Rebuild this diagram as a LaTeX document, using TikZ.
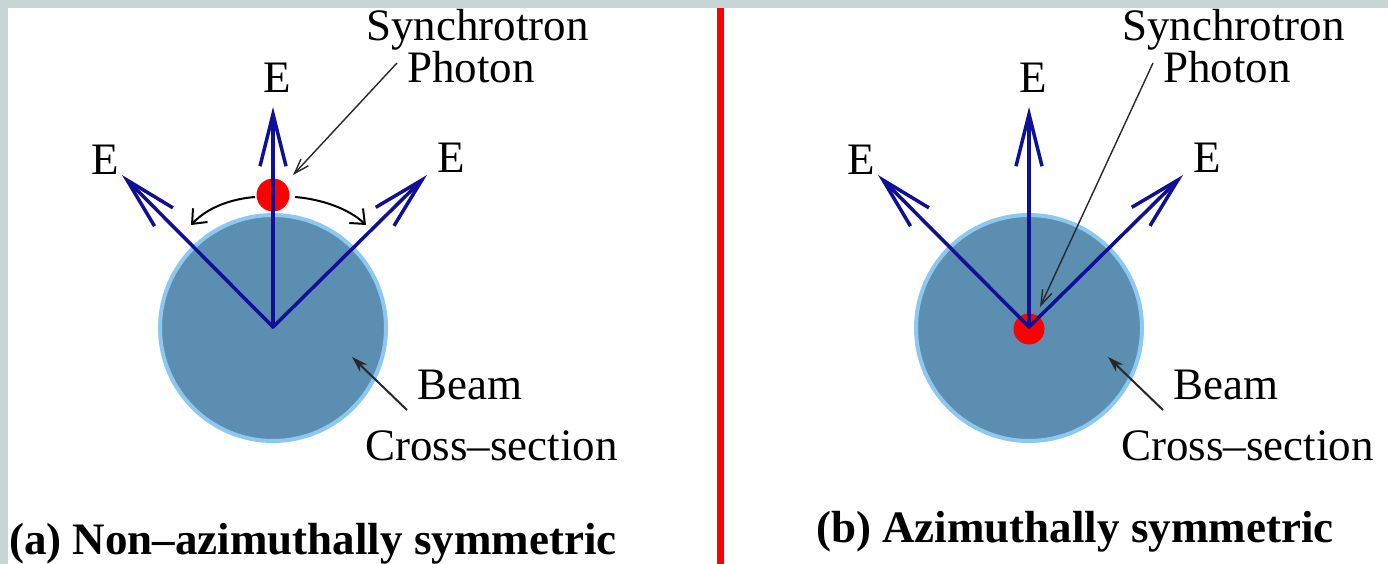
\documentclass[tikz,border=0pt]{standalone}
\usepackage{fontspec}
\setmainfont{Liberation Serif}
\usetikzlibrary{arrows.meta}
\definecolor{bgteal}{RGB}{200,213,213}
\definecolor{vecblue}{RGB}{16,16,150}
\definecolor{beamfill}{RGB}{92,142,178}
\definecolor{beamedge}{RGB}{140,200,240}
\definecolor{ptrgray}{RGB}{40,40,40}
\tikzset{
 vec/.style={draw=vecblue, line width=3.5pt, line cap=round, -{Straight Barb[length=52pt,width=26pt]}},
 lbl/.style={inner sep=0pt, font=\fontsize{45}{45}\selectfont},
 capt/.style={inner sep=0pt, font=\fontsize{45}{45}\selectfont\bfseries, anchor=base west},
 beamdisk/.style={circle, fill=beamfill, draw=beamedge, line width=4pt, minimum size=226pt, inner sep=0pt},
 photon/.style={circle, fill=red, inner sep=0pt},
 swing/.style={draw=black, line width=2pt, -{Straight Barb[length=12pt,width=20pt]}},
 ptr/.style={draw=ptrgray, line width=1.4pt, -{Straight Barb[length=15pt,width=10pt]}},
 bptr/.style={draw=ptrgray, line width=2pt, -{Stealth[length=16pt,width=10pt]}},
}
\begin{document}
\begin{tikzpicture}[x=1pt,y=-1pt]
\useasboundingbox (0,0) rectangle (1388,564);
\fill[bgteal] (0,0) rectangle (1388,564);
\fill[white] (8,8) rectangle (1388,564);
\fill[red] (717,8) rectangle (724,564);

% ---------- panel (a) ----------
\node[beamdisk] (beamA) at (273,328) {};
\node[photon, minimum size=33pt] (phA) at (273,195) {};
\coordinate (oA) at (273,327);
\coordinate (tAu) at (273,107);
\coordinate (tAl) at (122,175);
\coordinate (tAr) at (427,175);
\draw[vec] (oA) -- (tAu);
\draw[vec] (oA) -- (tAl);
\draw[vec] (oA) -- (tAr);
\node[lbl, anchor=base] (eAu) at (277,93) {E};
\node[lbl, anchor=base] (eAl) at (105,175) {E};
\node[lbl, anchor=base] (eAr) at (451,173) {E};
\coordinate (sAr0) at (295,197);
\coordinate (sAr1) at (366,225);
\coordinate (sAl0) at (255,197);
\coordinate (sAl1) at (191,225);
\draw[swing] (sAr0) .. controls (320,199) and (348,208) .. (sAr1);
\draw[swing] (sAl0) .. controls (230,199) and (207,208) .. (sAl1);
\node[lbl, anchor=base west] (synA) at (366,41) {Synchrotron};
\node[lbl, anchor=base west] (phoA) at (407,83) {Photon};
\coordinate (pA0) at (397,63);
\coordinate (pA1) at (293,175);
\draw[ptr] (pA0) -- (pA1);
\node[lbl, anchor=base west] (bmA) at (417,399) {Beam};
\node[lbl, anchor=base west] (csA) at (365,460) {Cross–section};
\coordinate (bA0) at (407,410);
\coordinate (bA1) at (352,357);
\draw[bptr] (bA0) -- (bA1);
\node[capt] (capA) at (9,554) {(a) Non–azimuthally symmetric};

% ---------- panel (b) ----------
\node[beamdisk] (beamB) at (1029,328) {};
\node[photon, minimum size=31pt] (phB) at (1029,329) {};
\coordinate (oB) at (1029,327);
\coordinate (tBu) at (1029,107);
\coordinate (tBl) at (878,175);
\coordinate (tBr) at (1183,175);
\draw[vec] (oB) -- (tBu);
\draw[vec] (oB) -- (tBl);
\draw[vec] (oB) -- (tBr);
\node[lbl, anchor=base] (eBu) at (1033,93) {E};
\node[lbl, anchor=base] (eBl) at (861,175) {E};
\node[lbl, anchor=base] (eBr) at (1207,173) {E};
\node[lbl, anchor=base west] (synB) at (1122,41) {Synchrotron};
\node[lbl, anchor=base west] (phoB) at (1163,83) {Photon};
\coordinate (pB0) at (1153,63);
\coordinate (pB1) at (1040,307);
\draw[ptr] (pB0) -- (pB1);
\node[lbl, anchor=base west] (bmB) at (1173,399) {Beam};
\node[lbl, anchor=base west] (csB) at (1121,460) {Cross–section};
\coordinate (bB0) at (1163,410);
\coordinate (bB1) at (1108,357);
\draw[bptr] (bB0) -- (bB1);
\node[capt] (capB) at (816,542) {(b) Azimuthally symmetric};
\end{tikzpicture}
\end{document}
